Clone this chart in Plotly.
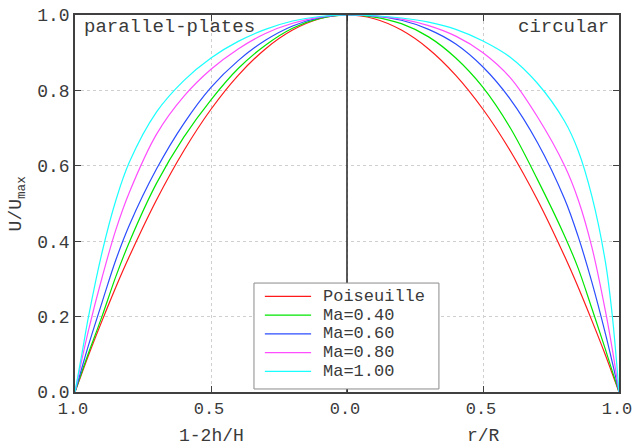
import plotly.graph_objects as go

# distance from centre (|1-2h/H| on the left, r/R on the right)
s_grid = [0.0, 0.1, 0.2, 0.3, 0.4, 0.5, 0.6, 0.7, 0.8, 0.85, 0.9, 0.95, 0.975, 1.0]

series_names = ["Poiseuille", "Ma=0.40", "Ma=0.60", "Ma=0.80", "Ma=1.00"]
series_colors = ["#ff1a1a", "#00e600", "#2a4dff", "#ff4dff", "#1affff"]

# parallel-plates (left half) U/Umax
plates_poiseuille = [1, 0.99, 0.96, 0.91, 0.84, 0.75, 0.64, 0.51, 0.36, 0.278, 0.19, 0.098, 0.049, 0]
plates_ma040 = [1, 0.991, 0.965, 0.92, 0.858, 0.775, 0.676, 0.554, 0.398, 0.306, 0.202, 0.104, 0.053, 0]
plates_ma060 = [1, 0.993, 0.971, 0.933, 0.879, 0.808, 0.712, 0.592, 0.443, 0.35, 0.239, 0.125, 0.063, 0]
plates_ma080 = [1, 0.9945, 0.978, 0.951, 0.91, 0.856, 0.784, 0.684, 0.53, 0.43, 0.305, 0.165, 0.085, 0]
plates_ma100 = [1, 0.996, 0.984, 0.962, 0.93, 0.886, 0.826, 0.743, 0.61, 0.508, 0.372, 0.201, 0.10, 0]

# circular (right half) U/Umax
circ_poiseuille = [1, 0.99, 0.96, 0.91, 0.84, 0.75, 0.64, 0.51, 0.36, 0.278, 0.19, 0.098, 0.049, 0]
circ_ma040 = [1, 0.9945, 0.977, 0.942, 0.886, 0.808, 0.701, 0.564, 0.414, 0.328, 0.222, 0.113, 0.056, 0]
circ_ma060 = [1, 0.997, 0.986, 0.962, 0.923, 0.862, 0.777, 0.662, 0.512, 0.412, 0.292, 0.155, 0.08, 0]
circ_ma080 = [1, 0.9975, 0.989, 0.972, 0.944, 0.90, 0.834, 0.73, 0.60, 0.51, 0.385, 0.215, 0.115, 0]
circ_ma100 = [1, 0.998, 0.992, 0.981, 0.962, 0.931, 0.888, 0.819, 0.718, 0.64, 0.52, 0.345, 0.205, 0]

plates = [plates_poiseuille, plates_ma040, plates_ma060, plates_ma080, plates_ma100]
circs = [circ_poiseuille, circ_ma040, circ_ma060, circ_ma080, circ_ma100]

x_tickvals = [-1.0, -0.5, 0.0, 0.5, 1.0]
x_ticktext = ["1.0", "0.5", "0.0", "0.5", "1.0"]
y_tickvals = [0.0, 0.2, 0.4, 0.6, 0.8, 1.0]
y_ticktext = ["0.0", "0.2", "0.4", "0.6", "0.8", "1.0"]

FONT = "Liberation Mono, Courier New, monospace"
TXT = "#3a3a3a"
AX = "#404040"

fig = go.Figure()

for name, col, left, right in zip(series_names, series_colors, plates, circs):
    xs = [-s for s in reversed(s_grid)] + s_grid[1:]
    ys = list(reversed(left)) + right[1:]
    fig.add_trace(go.Scatter(
        x=xs, y=ys, mode="lines", name=name, showlegend=False, hoverinfo="skip",
        line=dict(color=col, width=1.2, shape="spline", smoothing=1.0),
    ))

shapes = []
# centre line
shapes.append(dict(type="line", x0=0, x1=0, y0=0, y1=1, xref="x", yref="y",
                   line=dict(color="#303030", width=1.6), layer="above"))

# legend box (paper coords)
LX0, LX1, LY0, LY1 = 0.329, 0.669, 0.008, 0.289
shapes.append(dict(type="rect", xref="paper", yref="paper", x0=LX0, x1=LX1, y0=LY0, y1=LY1,
                   fillcolor="white", line=dict(color="#8a8a8a", width=1), layer="above"))
annotations = []
row_top = 0.2535
row_step = 0.0497
for i, (name, col) in enumerate(zip(series_names, series_colors)):
    yy = row_top - i * row_step
    shapes.append(dict(type="line", xref="paper", yref="paper", x0=0.349, x1=0.434, y0=yy, y1=yy,
                       line=dict(color=col, width=1.3), layer="above"))
    annotations.append(dict(text=name, x=0.452, y=yy, xref="paper", yref="paper",
                            xanchor="left", yanchor="middle", showarrow=False,
                            font=dict(family=FONT, size=17, color=TXT)))

annotations += [
    dict(text="parallel-plates", x=0.013, y=0.968, xref="paper", yref="paper",
         xanchor="left", yanchor="middle", showarrow=False,
         font=dict(family=FONT, size=19, color=TXT)),
    dict(text="circular", x=0.985, y=0.968, xref="paper", yref="paper",
         xanchor="right", yanchor="middle", showarrow=False,
         font=dict(family=FONT, size=19, color=TXT)),
    dict(text="1-2h/H", x=-0.5, y=-0.117, xref="x", yref="paper",
         xanchor="center", yanchor="middle", showarrow=False,
         font=dict(family=FONT, size=18, color=TXT)),
    dict(text="r/R", x=0.5, y=-0.117, xref="x", yref="paper",
         xanchor="center", yanchor="middle", showarrow=False,
         font=dict(family=FONT, size=18, color=TXT)),
    dict(text="U/U<sub>max</sub>", x=-0.105, y=0.5, xref="paper", yref="paper",
         xanchor="center", yanchor="middle", showarrow=False, textangle=-90,
         font=dict(family=FONT, size=18, color=TXT)),
]

fig.update_layout(
    width=633, height=446,
    margin=dict(l=75, r=14, t=15, b=54, autoexpand=False),
    plot_bgcolor="white", paper_bgcolor="white",
    font=dict(family=FONT, size=17, color=TXT),
    showlegend=False,
    hovermode=False,
    xaxis=dict(
        range=[-1, 1], tickvals=x_tickvals, ticktext=x_ticktext,
        showgrid=True, gridcolor="#cfcfcf", griddash="dot", gridwidth=1,
        zeroline=False, showline=True, linecolor=AX, linewidth=1.6,
        mirror="ticks", ticks="inside", ticklen=6, tickcolor=AX, tickwidth=1,
        tickfont=dict(family=FONT, size=17, color=TXT),
        ticklabeloverflow="allow", automargin=False, ticklabelshift=-2,
    ),
    yaxis=dict(
        range=[0, 1], tickvals=y_tickvals, ticktext=y_ticktext,
        showgrid=True, gridcolor="#cfcfcf", griddash="dot", gridwidth=1,
        zeroline=False, showline=True, linecolor=AX, linewidth=1.6,
        mirror="ticks", ticks="inside", ticklen=6, tickcolor=AX, tickwidth=1,
        tickfont=dict(family=FONT, size=18, color=TXT),
        ticklabeloverflow="allow", automargin=False,
    ),
    shapes=shapes,
    annotations=annotations,
)

fig.write_html("out.html", config={"displayModeBar": False},
               post_script="document.body.style.margin='0px';")
